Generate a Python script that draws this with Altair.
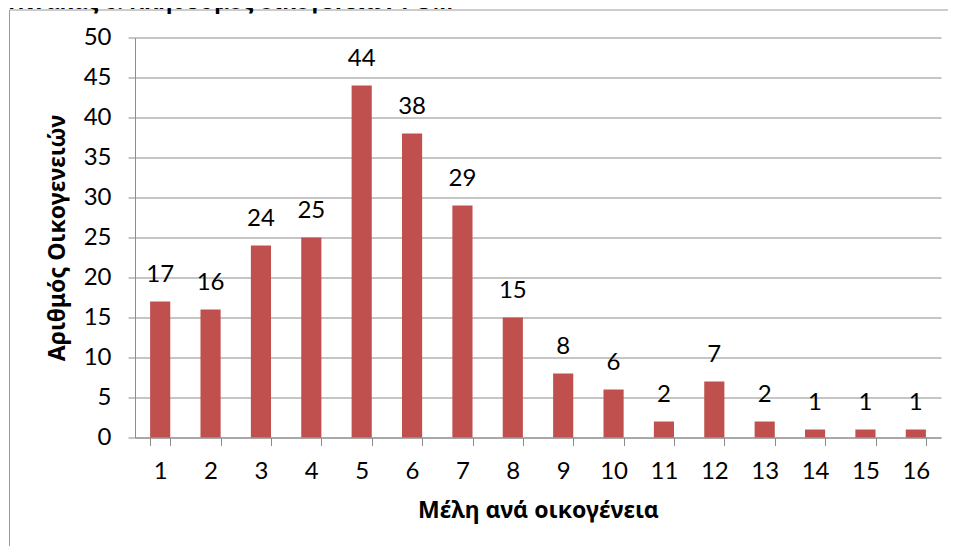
import altair as alt
import pandas as pd

members = [str(i) for i in range(1, 17)]
families = [17, 16, 24, 25, 44, 38, 29, 15, 8, 6, 2, 7, 2, 1, 1, 1]

title_text = "Πίνακας 6: Πληθυσμός οικογενειών ΡΟΜ"
x_title = "Μέλη ανά οικογένεια"
y_title = "Αριθμός Οικογενειών"

df = pd.DataFrame({"m": members, "n": families})
one = pd.DataFrame({"k": [0]})

GREY = "#8c8c8c"
BAR = "#C0504D"
FONT = "Lato, Noto Sans, sans-serif"
GFONT = "Noto Sans, sans-serif"

x_enc = alt.X(
    "m:N", sort=members,
    scale=alt.Scale(paddingInner=0.6, paddingOuter=0.3),
    axis=alt.Axis(
        title=x_title, labelAngle=0, tickBand="extent", tickSize=8,
        tickColor=GREY, domainColor=GREY, labelFont=FONT, labelFontSize=24,
        labelColor="black", labelPadding=26, labelBaseline="middle",
        titleFont=GFONT, titleFontSize=23,
        titleFontWeight="bold", titleColor="black", titleY=73,
        titleBaseline="middle", grid=False, labelOverlap=False,
    ),
)
y_enc = alt.Y(
    "n:Q",
    scale=alt.Scale(domain=[0, 50], nice=False),
    axis=alt.Axis(
        title=y_title, values=list(range(0, 51, 5)), tickSize=7,
        tickColor=GREY, domainColor=GREY, gridColor=GREY, gridWidth=1,
        labelFont=FONT, labelFontSize=24, labelColor="black", labelPadding=17,
        labelOverlap=False,
        titleFont=GFONT, titleFontSize=23, titleFontWeight="bold",
        titleColor="black", titleX=-78, titleY=200, titleAngle=-90,
        titleBaseline="middle", titleAlign="center",
    ),
)

bars = alt.Chart(df).mark_bar(color=BAR).encode(x=x_enc, y=y_enc)
labels = alt.Chart(df).mark_text(
    font=FONT, fontSize=24, color="black", baseline="alphabetic", dy=-20
).encode(x=x_enc, y=y_enc, text="n:Q")

border_left = alt.Chart(one).mark_rule(color="#9a9a9a", strokeWidth=1).encode(
    x=alt.value(-125.5), y=alt.value(-27.5), y2=alt.value(560)
)
border_top = alt.Chart(one).mark_rule(color="#9a9a9a", strokeWidth=1).encode(
    x=alt.value(-125.5), x2=alt.value(900), y=alt.value(-27.5)
)
title = alt.Chart(one).mark_text(
    font=GFONT, fontSize=22, fontWeight="bold", color="black",
    align="left", baseline="alphabetic",
).encode(x=alt.value(-127), y=alt.value(-28.5), text=alt.value(title_text))

chart = alt.layer(bars, labels, border_left, border_top, title).properties(
    width=806, height=400,
    autosize=alt.AutoSizeParams(type="none"),
    padding={"left": 127, "top": 29.5, "right": 7, "bottom": 108},
).configure_view(stroke=None)

chart.save("out.html", embed_options={"renderer": "svg", "actions": False})
